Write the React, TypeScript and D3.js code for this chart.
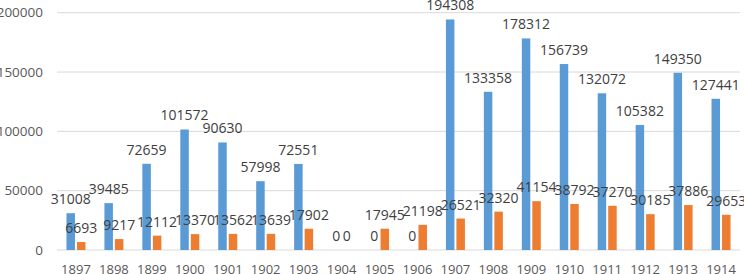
import React from "react";
import * as d3 from "d3";

const years = ["1897","1898","1899","1900","1901","1902","1903","1904","1905","1906","1907","1908","1909","1910","1911","1912","1913","1914"];
const blueValues = [31008, 39485, 72659, 101572, 90630, 57998, 72551, 0, 0, 0, 194308, 133358, 178312, 156739, 132072, 105382, 149350, 127441];
const orangeValues = [6693, 9217, 12112, 13370, 13562, 13639, 17902, 0, 17945, 21198, 26521, 32320, 41154, 38792, 37270, 30185, 37886, 29653];
const yTicks = [0, 50000, 100000, 150000, 200000];

const W = 744, H = 274;
const left = 57, right = 740, top = 12.7, bottom = 250;
const FONT = "'Open Sans', sans-serif";

export default function App() {
  const x = d3.scaleBand<string>().domain(years).range([left, right]).padding(0);
  const y = d3.scaleLinear().domain([0, 200000]).range([bottom, top]);
  const bw = 8.5;
  const series = [
    { values: blueValues, color: "#5B9BD5", off: -9.5 },
    { values: orangeValues, color: "#ED7D31", off: 1 },
  ];
  return (
    <div style={{ position: "fixed", left: 0, top: 0 }}>
      <svg width={W} height={H} style={{ display: "block", background: "#fff" }}>
        {yTicks.map((t) => (
          <g key={t}>
            <line x1={left} x2={right} y1={y(t)} y2={y(t)} stroke="#D9D9D9" strokeWidth={1} />
            <text x={43} y={y(t) + 4.7} textAnchor="end" fontFamily={FONT} fontSize={13.5} fill="#595959">{t}</text>
          </g>
        ))}
        {series.map((s, si) => (
          <g key={si}>
            {s.values.map((v, i) => {
              const c = (x(years[i]) as number) + x.bandwidth() / 2;
              return (
                <rect key={i} x={c + s.off} y={y(v)} width={bw} height={bottom - y(v)} fill={s.color} />
              );
            })}
          </g>
        ))}
        {series.map((s, si) => (
          <g key={"l" + si}>
            {s.values.map((v, i) => {
              const c = (x(years[i]) as number) + x.bandwidth() / 2;
              return (
                <text key={i} x={c + s.off + bw / 2} y={Math.min(y(v) - 9, y(v) - 9)} textAnchor="middle" fontFamily={FONT} fontSize={14} fill="#404040">{v}</text>
              );
            })}
          </g>
        ))}
        {years.map((yr) => (
          <text key={yr} x={(x(yr) as number) + x.bandwidth() / 2} y={273.5} textAnchor="middle" fontFamily={FONT} fontSize={13} fill="#595959">{yr}</text>
        ))}
      </svg>
    </div>
  );
}
